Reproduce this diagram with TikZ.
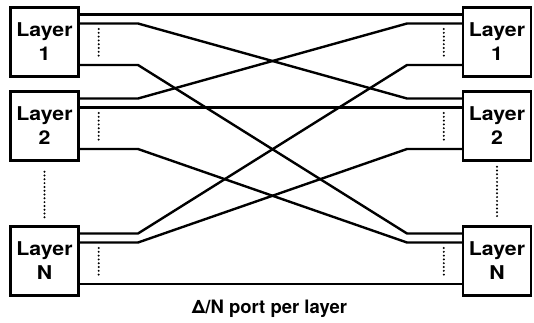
\documentclass[tikz,border=0pt]{standalone}
\usepackage{fontspec}
\setsansfont{TeX Gyre Heros}
\newfontfamily\layerfont{TeX Gyre Heros}[FakeStretch=1.12]
\usetikzlibrary{calc}

\tikzset{
  layer/.style={draw, line width=2.4pt, minimum width=68pt, minimum height=69pt,
    inner sep=0pt, align=center, font=\layerfont\bfseries\fontsize{19}{24}\selectfont},
  wire/.style={line width=2.4pt},
  dots/.style={line width=2.2pt, line cap=round, dash pattern=on 0pt off 3.8pt}
}

\begin{document}
\begin{tikzpicture}[x=1pt,y=-1pt]
    \useasboundingbox (0,0) rectangle (534,322);

    % Layers on the left
    \node[layer] (l1) at (44.5,42) {Layer\\1};
    \node[layer] (l2) at (44.5,126) {Layer\\2};
    \node[layer] (lN) at (44.5,261) {Layer\\N};

    % Layers on the right
    \node[layer] (r1) at (497,42) {Layer\\1};
    \node[layer] (r2) at (497,126) {Layer\\2};
    \node[layer] (rN) at (497,261) {Layer\\N};

    % Ports (first, second, last) of every layer
    \foreach \b in {l1,l2,lN}{
        \coordinate (\b-1) at ($(\b.east)+(0,-27.5)$);
        \coordinate (\b-2) at ($(\b.east)+(0,-18.5)$);
        \coordinate (\b-3) at ($(\b.east)+(0,23)$);
        \draw[dots] ($(\b.east)+(19,-13)$) -- ($(\b.east)+(19,15)$);
    }
    \foreach \b in {r1,r2,rN}{
        \coordinate (\b-1) at ($(\b.west)+(0,-27.5)$);
        \coordinate (\b-2) at ($(\b.west)+(0,-18.5)$);
        \coordinate (\b-3) at ($(\b.west)+(0,23)$);
        \draw[dots] ($(\b.west)+(-18,-13)$) -- ($(\b.west)+(-18,15)$);
    }

    % Where the wires bend
    \coordinate (bl) at (138,0);
    \coordinate (br) at (407,0);

    % Straight wires
    \draw[wire] (l1-1) -- (r1-1);
    \draw[wire] (l2-2) -- (r2-2);
    \draw[wire] (lN-3) -- (rN-3);

    % Crossing wires
    \foreach \a/\c in {l1-2/r2-1, l2-1/r1-2, l1-3/rN-1, lN-1/r1-3, l2-3/rN-2, lN-2/r2-3}
        \draw[wire] (\a) -- (\a -| bl) -- (\c -| br) -- (\c);

    % More layers in between
    \draw[dots] ($(l2.south)+(0,10)$) -- ($(lN.north)+(0,-8)$);
    \draw[dots] ($(r2.south)+(0,5)$) -- ($(rN.north)+(0,-8)$);

    \node[anchor=base, font=\sffamily\bfseries\fontsize{18.5}{20}\selectfont] (cap) at (269.5,313) {Δ/N port per layer};
\end{tikzpicture}
\end{document}
